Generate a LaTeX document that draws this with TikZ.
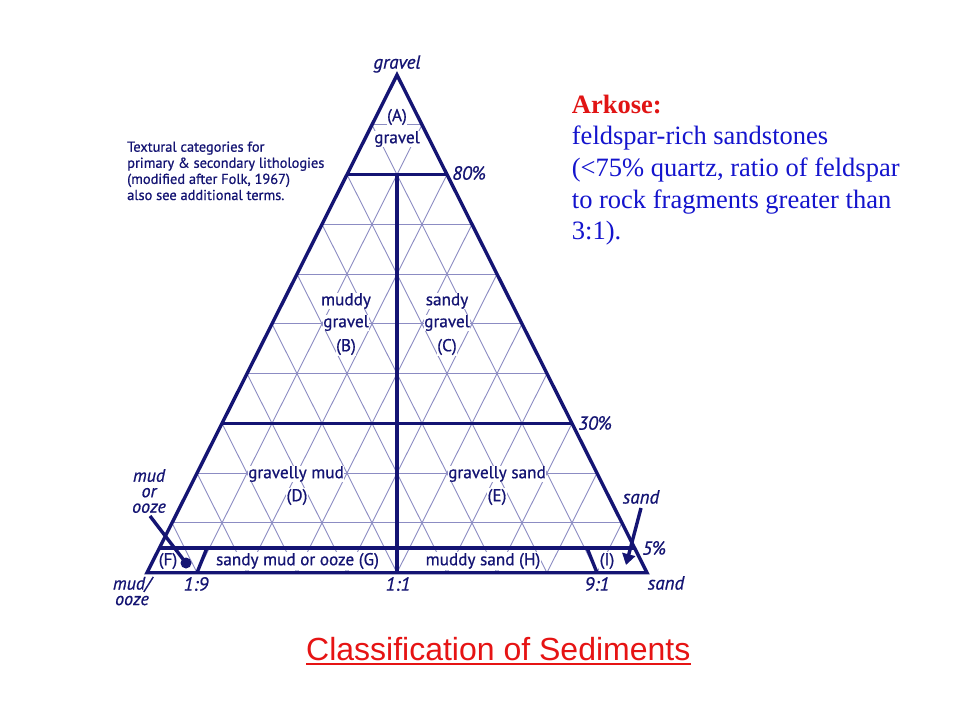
\documentclass[tikz,border=0pt]{standalone}
\usepackage{fontspec}
\setmainfont{Liberation Serif}
\newfontfamily\labfont[FakeBold=0.7]{PT Sans}
\newfontfamily\titlefont{Liberation Sans}
\usetikzlibrary{calc,arrows.meta}
\definecolor{navy}{RGB}{20,20,115}
\definecolor{gridc}{RGB}{140,140,195}
\definecolor{arkred}{RGB}{225,20,20}
\definecolor{arkblue}{RGB}{20,20,205}
\definecolor{titlered}{RGB}{230,20,20}
\begin{document}
\begin{tikzpicture}[x=1pt,y=-1pt,
  thickline/.style={line width=3.4pt, draw=navy, line join=miter, line cap=butt},
  gridline/.style={line width=0.9pt, draw=gridc},
  lab/.style={font=\labfont\fontsize{17.2}{17}\selectfont, text=navy, fill=white, inner sep=0.6pt},
  itlab/.style={font=\labfont\itshape\fontsize{19}{14}\selectfont, text=navy, inner sep=0pt, align=center},
  stack/.style={font=\labfont\itshape\fontsize{18}{15.5}\selectfont, text=navy, inner sep=0pt, align=center},
  note/.style={font=\labfont\fontsize{14.4}{14}\selectfont, text=navy, inner sep=0pt, anchor=base west},
  ark/.style={font=\fontsize{26.5}{26.5}\selectfont, text=arkblue, inner sep=0pt, anchor=base west},
  pointer/.style={draw=navy, line width=3.4pt}
]
\fill[white] (0,0) rectangle (960,720);
\useasboundingbox (0,0) rectangle (960,720);

\coordinate (L) at (147,572.7);
\coordinate (R) at (647,572.7);
\coordinate (T) at (397,75);
\coordinate (M) at ($(L)!0.5!(R)$);
\coordinate (B1) at ($(L)!0.1!(R)$);
\coordinate (B9) at ($(L)!0.9!(R)$);

% grid
\foreach \f in {0.1,0.2,...,0.9}{
  \draw[gridline] ($(L)!\f!(R)$) -- ($(T)!\f!(R)$);
  \draw[gridline] ($(L)!\f!(R)$) -- ($(L)!\f!(T)$);
  \draw[gridline] ($(L)!\f!(T)$) -- ($(R)!\f!(T)$);
}

% field labels
\node[lab] (A) at (397,117) {(A)};
\node[lab] (Agr) at (397,139) {gravel};
\node[lab] (B1l) at (346,301) {muddy};
\node[lab] (B2l) at (346,323) {gravel};
\node[lab] (B3l) at (346,347) {(B)};
\node[lab] (C1l) at (447,301) {sandy};
\node[lab] (C2l) at (447,323) {gravel};
\node[lab] (C3l) at (447,347) {(C)};
\node[lab] (D1l) at (296,474) {gravelly mud};
\node[lab] (D2l) at (297,497) {(D)};
\node[lab] (E1l) at (497,474) {gravelly sand};
\node[lab] (E2l) at (497,497) {(E)};
\node[lab] (Fl) at (168,561) {(F)};
\node[lab] (Gl) at (297.5,561) {sandy mud or ooze (G)};
\node[lab] (Hl) at (483,561) {muddy sand (H)};
\node[lab] (Il) at (607,561) {(I)};

% thick lines
\draw[thickline] (L) -- (R) -- (T) -- cycle;
\draw[thickline] ($(L)!0.8!(T)$) -- ($(R)!0.8!(T)$);
\draw[thickline] ($(L)!0.3!(T)$) -- ($(R)!0.3!(T)$);
\draw[thickline] ($(L)!0.05!(T)$) -- ($(R)!0.05!(T)$);
\draw[thickline] (M) -- ($(M)!0.8!(T)$);
\draw[thickline] (B1) -- ($(B1)!0.05!(T)$);
\draw[thickline] (B9) -- ($(B9)!0.05!(T)$);

% italic axis labels
\node[itlab] (gtop) at (397,64) {gravel};
\node[itlab, anchor=west] (p80) at (452,173) {80\%};
\node[itlab, anchor=west] (p30) at (578,423) {30\%};
\node[itlab, anchor=west] (p5) at (642,548) {5\%};
\node[itlab] (r19) at (196,584) {1:9};
\node[itlab] (r11) at (398,584) {1:1};
\node[itlab] (r91) at (597,584) {9:1};
\node[itlab] (sandc) at (666,583) {sand};
\node[stack] (mudc) at (132,591) {mud/\\ooze};
\node[stack] (mo) at (149,491) {mud\\or\\ooze};
\node[itlab] (sandp) at (641,497) {sand};

% pointers
\coordinate (mudstart) at (150,516);
\coordinate (muddot) at (186,563);
\draw[pointer] (mudstart) -- (muddot);
\fill[navy] (muddot) circle (5.5);
\coordinate (sandstart) at (641,508);
\coordinate (sandtip) at (626,565);
\draw[pointer, -{Triangle[width=13pt,length=11pt]}] (sandstart) -- (sandtip);

% note
\node[note] (n1) at (127,151.7) {Textural categories for};
\node[note] (n2) at (127,167.8) {primary \& secondary lithologies};
\node[note] (n3) at (127,183.9) {(modified after Folk, 1967)};
\node[note] (n4) at (127,200) {also see additional terms.};

% arkose text
\node[ark, text=arkred, font=\bfseries\fontsize{26.5}{26.5}\selectfont] (ark0) at (571.7,113) {Arkose:};
\node[ark] (ark1) at (571.7,144.7) {feldspar-rich sandstones};
\node[ark] (ark2) at (571.7,176.4) {(<75\% quartz, ratio of feldspar};
\node[ark] (ark3) at (571.7,208.1) {to rock fragments greater than};
\node[ark] (ark4) at (571.7,239.8) {3:1).};

% title
\node[inner sep=0pt, anchor=base west, text=titlered, font=\titlefont\fontsize{32}{32}\selectfont] (title) at (306,660) {Classification of Sediments};
\draw[titlered, line width=1.6pt] ($(title.base west)+(0,3.8)$) -- ($(title.base east)+(0,3.8)$);
\end{tikzpicture}
\end{document}
